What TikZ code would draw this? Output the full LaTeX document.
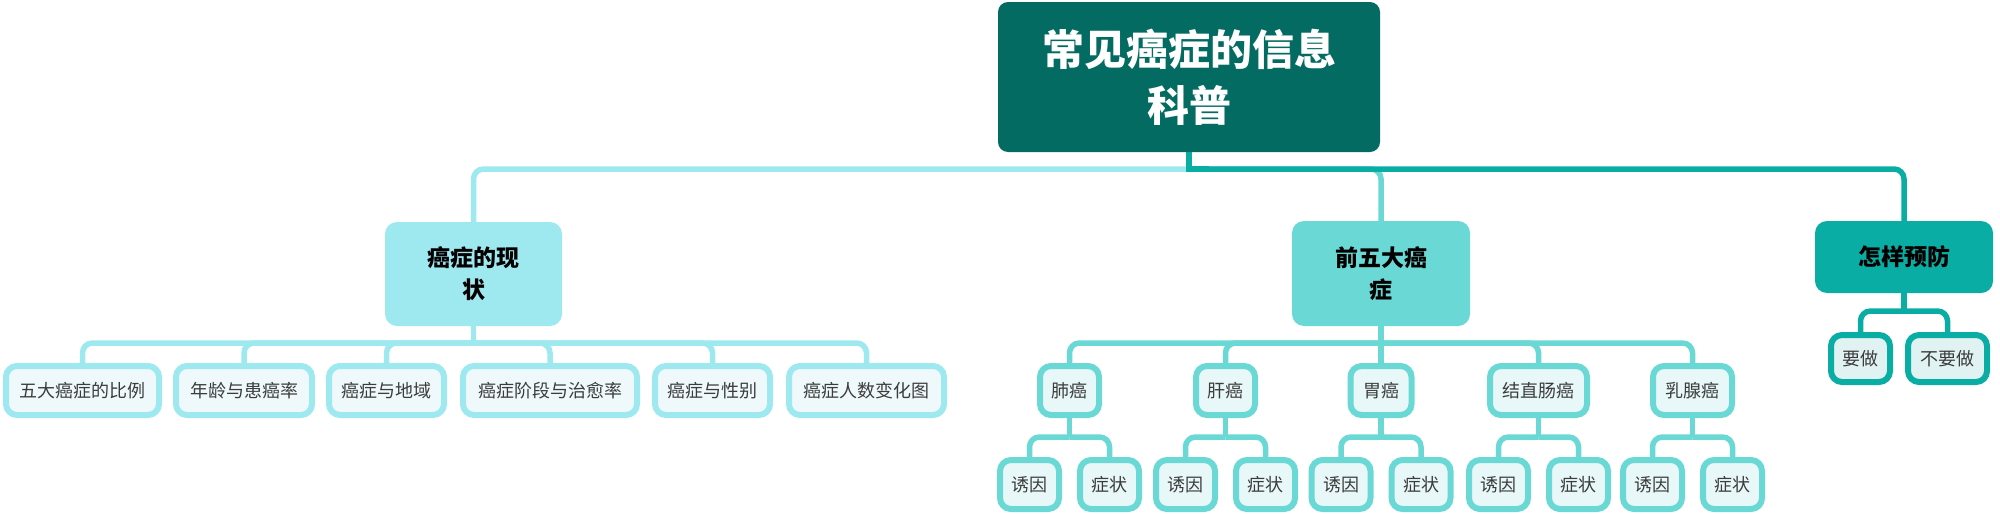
\documentclass[tikz,border=0pt]{standalone}
\usepackage{fontspec}
\setmainfont{Noto Sans CJK SC}
\usetikzlibrary{backgrounds}
\definecolor{rootc}{RGB}{4,107,99}
\definecolor{cA}{RGB}{158,232,240}
\definecolor{cB}{RGB}{106,216,212}
\definecolor{cC}{RGB}{10,173,164}
\definecolor{fA}{RGB}{239,249,251}
\definecolor{fB}{RGB}{232,247,247}
\definecolor{fC}{RGB}{224,242,241}
\definecolor{leaftext}{RGB}{60,60,60}
\tikzset{
  rootbox/.style={fill=rootc, rounded corners=10pt, text=white, inner sep=0pt,
    font=\fontsize{42}{56}\selectfont\bfseries, align=center},
  midbox/.style={rounded corners=12pt, inner sep=0pt, text=black,
    font=\fontsize{23}{32}\selectfont\bfseries, align=center},
  leaf/.style={line width=6pt, rounded corners=11pt, inner sep=0pt, text=leaftext,
    font=\fontsize{18}{20}\selectfont, minimum height=49pt},
  leafA/.style={leaf, draw=cA, fill=fA},
  leafB/.style={leaf, draw=cB, fill=fB},
  leafC/.style={leaf, draw=cC, fill=fC},
  conn/.style={line width=5.5pt, rounded corners=10pt},
  stub/.style={line width=5.5pt},
}
\begin{document}
\begin{tikzpicture}[x=1pt,y=-1pt]
\useasboundingbox (0,0) rectangle (2000,514);
% root
\node[rootbox, minimum width=382pt, minimum height=150pt] (root) at (1189,77) {常见癌症的信息\\科普};
% level 1
\node[midbox, fill=cA, minimum width=177pt, minimum height=104pt] (sA) at (473.5,274) {癌症的现\\状};
\node[midbox, fill=cB, minimum width=178pt, minimum height=105pt] (sB) at (1381,273.5) {前五大癌\\症};
\node[midbox, fill=cC, minimum width=178pt, minimum height=72pt] (sC) at (1904,257) {怎样预防};
% level 2 under A
\node[leafA, minimum width=153pt] (a1) at (82.5,390.5) {五大癌症的比例};
\node[leafA, minimum width=136pt] (a2) at (244,390.5) {年龄与患癌率};
\node[leafA, minimum width=115pt] (a3) at (386.5,390.5) {癌症与地域};
\node[leafA, minimum width=174pt] (a4) at (550,390.5) {癌症阶段与治愈率};
\node[leafA, minimum width=115pt] (a5) at (712.5,390.5) {癌症与性别};
\node[leafA, minimum width=155pt] (a6) at (866.5,390.5) {癌症人数变化图};
% level 2 under B
\node[leafB, minimum width=59pt] (b1) at (1069.5,390.5) {肺癌};
\node[leafB, minimum width=59pt] (b2) at (1225.5,390.5) {肝癌};
\node[leafB, minimum width=61pt] (b3) at (1381,390.5) {胃癌};
\node[leafB, minimum width=97pt] (b4) at (1538.5,390.5) {结直肠癌};
\node[leafB, minimum width=79pt] (b5) at (1692.5,390.5) {乳腺癌};
% level 3
\foreach \n/\x in {1/1069.5,2/1225.5,3/1381,4/1538.5,5/1692.5}{
  \node[leafB, minimum width=59pt] (y\n) at (\x-40,484.5) {诱因};
  \node[leafB, minimum width=59pt] (z\n) at (\x+40,484.5) {症状};
}
% under C
\node[leafC, minimum width=59pt, minimum height=47pt] (c1) at (1860.5,358.5) {要做};
\node[leafC, minimum width=79pt, minimum height=47pt] (c2) at (1947.5,358.5) {不要做};

\begin{scope}[on background layer]
% root connectors
\coordinate (rj) at (1189,169);
\draw[conn, cA] (rj) -| (sA.north);
\draw[conn, cB] (rj) -| (sB.north);
\draw[conn, cC] (rj) -| (sC.north);
\draw[stub, cC] (root.south) -- (rj) -- ++(20,0);
% A bus
\coordinate (jA) at (473.5,343);
\draw[stub, cA] (sA.south) -- (jA);
\foreach \c in {a1,a2,a3,a4,a5,a6}{\draw[conn, cA] (jA) -| (\c.north);}
% B bus
\coordinate (jB) at (1381,343);
\draw[stub, cB] (sB.south) -- (b3.north);
\foreach \c in {b1,b2,b4,b5}{\draw[conn, cB] (jB) -| (\c.north);}
% level 3 buses
\foreach \n in {1,2,3,4,5}{
  \coordinate (k\n) at (b\n.south |- 0,437);
  \draw[stub, cB] (b\n.south) -- (k\n);
  \draw[conn, cB] (k\n) -| (y\n.north);
  \draw[conn, cB] (k\n) -| (z\n.north);
}
% C bus
\coordinate (jC) at (1904,311);
\draw[stub, cC] (sC.south) -- (jC);
\draw[conn, cC] (jC) -| (c1.north);
\draw[conn, cC] (jC) -| (c2.north);
\end{scope}
\end{tikzpicture}
\end{document}
